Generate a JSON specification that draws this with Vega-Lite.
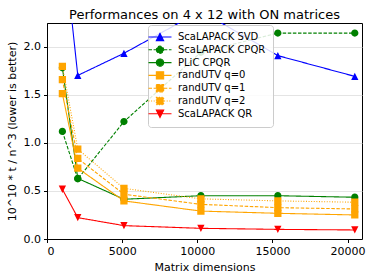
{
  "$schema": "https://vega.github.io/schema/vega-lite/v6.json",
  "width": 315,
  "height": 216,
  "autosize": "none",
  "padding": {"left": 47, "top": 23, "right": 12, "bottom": 41},
  "background": "white",
  "config": {
    "font": "DejaVu Sans",
    "view": {"stroke": "black", "strokeWidth": 1},
    "axis": {"labelFont": "DejaVu Sans", "titleFont": "DejaVu Sans", "labelFontSize": 11, "titleFontSize": 11, "titleFontWeight": "normal", "labelColor": "black", "titleColor": "black", "tickColor": "black", "domainColor": "black", "tickSize": 3.5}
  },
  "title": {"text": "Performances on 4 x 12 with ON matrices", "fontSize": 13, "fontWeight": "normal", "font": "DejaVu Sans", "offset": 1, "color": "black"},
  "data": {"values": [
    {"series": "ScaLAPACK SVD", "n": 1024, "v": 3.19},
    {"series": "ScaLAPACK SVD", "n": 2048, "v": 1.70},
    {"series": "ScaLAPACK SVD", "n": 5120, "v": 1.93},
    {"series": "ScaLAPACK SVD", "n": 10240, "v": 2.37},
    {"series": "ScaLAPACK SVD", "n": 15360, "v": 1.906},
    {"series": "ScaLAPACK SVD", "n": 20480, "v": 1.69},
    {"series": "ScaLAPACK CPQR", "n": 1024, "v": 1.118},
    {"series": "ScaLAPACK CPQR", "n": 2048, "v": 0.625},
    {"series": "ScaLAPACK CPQR", "n": 5120, "v": 1.22},
    {"series": "ScaLAPACK CPQR", "n": 10240, "v": 1.94},
    {"series": "ScaLAPACK CPQR", "n": 15360, "v": 2.14},
    {"series": "ScaLAPACK CPQR", "n": 20480, "v": 2.14},
    {"series": "PLiC CPQR", "n": 1024, "v": 1.78},
    {"series": "PLiC CPQR", "n": 2048, "v": 0.63},
    {"series": "PLiC CPQR", "n": 5120, "v": 0.413},
    {"series": "PLiC CPQR", "n": 10240, "v": 0.45},
    {"series": "PLiC CPQR", "n": 15360, "v": 0.45},
    {"series": "PLiC CPQR", "n": 20480, "v": 0.434},
    {"series": "randUTV q=0", "n": 1024, "v": 1.51},
    {"series": "randUTV q=0", "n": 2048, "v": 0.736},
    {"series": "randUTV q=0", "n": 5120, "v": 0.396},
    {"series": "randUTV q=0", "n": 10240, "v": 0.29},
    {"series": "randUTV q=0", "n": 15360, "v": 0.267},
    {"series": "randUTV q=0", "n": 20480, "v": 0.25},
    {"series": "randUTV q=1", "n": 1024, "v": 1.656},
    {"series": "randUTV q=1", "n": 2048, "v": 0.837},
    {"series": "randUTV q=1", "n": 5120, "v": 0.465},
    {"series": "randUTV q=1", "n": 10240, "v": 0.36},
    {"series": "randUTV q=1", "n": 15360, "v": 0.326},
    {"series": "randUTV q=1", "n": 20480, "v": 0.312},
    {"series": "randUTV q=2", "n": 1024, "v": 1.795},
    {"series": "randUTV q=2", "n": 2048, "v": 0.934},
    {"series": "randUTV q=2", "n": 5120, "v": 0.526},
    {"series": "randUTV q=2", "n": 10240, "v": 0.417},
    {"series": "randUTV q=2", "n": 15360, "v": 0.396},
    {"series": "randUTV q=2", "n": 20480, "v": 0.382},
    {"series": "ScaLAPACK QR", "n": 1024, "v": 0.517},
    {"series": "ScaLAPACK QR", "n": 2048, "v": 0.222},
    {"series": "ScaLAPACK QR", "n": 5120, "v": 0.139},
    {"series": "ScaLAPACK QR", "n": 10240, "v": 0.111},
    {"series": "ScaLAPACK QR", "n": 15360, "v": 0.10},
    {"series": "ScaLAPACK QR", "n": 20480, "v": 0.094}
  ]},
  "encoding": {
    "x": {"field": "n", "type": "quantitative", "title": "Matrix dimensions",
          "scale": {"domain": [0, 20960], "nice": false, "zero": false},
          "axis": {"values": [0, 5000, 10000, 15000, 20000], "format": "d", "grid": false, "labelPadding": 3, "titlePadding": 5}},
    "y": {"field": "v", "type": "quantitative", "title": "10^10 * t / n^3 (lower is better)",
          "scale": {"domain": [0, 2.245], "nice": false},
          "axis": {"values": [0, 0.5, 1, 1.5, 2], "format": ".1f", "grid": true, "gridColor": "#dddddd", "gridWidth": 0.8, "labelPadding": 3, "titlePadding": 6}},
    "color": {"field": "series", "type": "nominal",
              "scale": {"domain": ["ScaLAPACK SVD", "ScaLAPACK CPQR", "PLiC CPQR", "randUTV q=0", "randUTV q=1", "randUTV q=2", "ScaLAPACK QR"],
                        "range": ["#0000ff", "#008000", "#008000", "#ffa500", "#ffa500", "#ffa500", "#ff0000"]},
              "legend": {
                "title": null, "orient": "none", "legendX": 101, "legendY": 2,
                "strokeColor": "#cccccc", "fillColor": "rgba(255,255,255,0.85)", "cornerRadius": 3, "padding": 7,
                "labelFont": "DejaVu Sans", "labelFontSize": 10, "labelColor": "black",
                "symbolSize": 53, "symbolStrokeWidth": 1.1, "labelOffset": 13, "rowPadding": 0.8
              }}
  },
  "layer": [
    {
      "mark": {"type": "line", "strokeWidth": 1.1, "clip": true},
      "encoding": {
        "strokeDash": {"field": "series", "type": "nominal", "title": null,
          "scale": {"domain": ["ScaLAPACK SVD", "ScaLAPACK CPQR", "PLiC CPQR", "randUTV q=0", "randUTV q=1", "randUTV q=2", "ScaLAPACK QR"],
                    "range": [[1, 0], [3.5, 1.6], [1, 0], [1, 0], [3.5, 1.6], [1, 1.6], [1, 0]]}}
      }
    },
    {
      "mark": {"type": "point", "filled": true, "opacity": 1, "size": 53, "clip": true},
      "encoding": {
        "shape": {"field": "series", "type": "nominal", "title": null,
          "scale": {"domain": ["ScaLAPACK SVD", "ScaLAPACK CPQR", "PLiC CPQR", "randUTV q=0", "randUTV q=1", "randUTV q=2", "ScaLAPACK QR"],
                    "range": ["M-3.16,0L3.16,0M0,-1L1,1L-1,1Z", "M-3.16,0L3.16,0M-1,0A1,1 0 1,0 1,0A1,1 0 1,0 -1,0Z", "M-3.16,0L3.16,0M-1,0A1,1 0 1,0 1,0A1,1 0 1,0 -1,0Z", "M-3.16,0L3.16,0M-1,-1L1,-1L1,1L-1,1Z", "M-3.16,0L3.16,0M-1,-1L1,-1L1,1L-1,1Z", "M-3.16,0L3.16,0M-1,-1L1,-1L1,1L-1,1Z", "M-3.16,0L3.16,0M0,1L1,-1L-1,-1Z"]}}
      }
    }
  ]
}
